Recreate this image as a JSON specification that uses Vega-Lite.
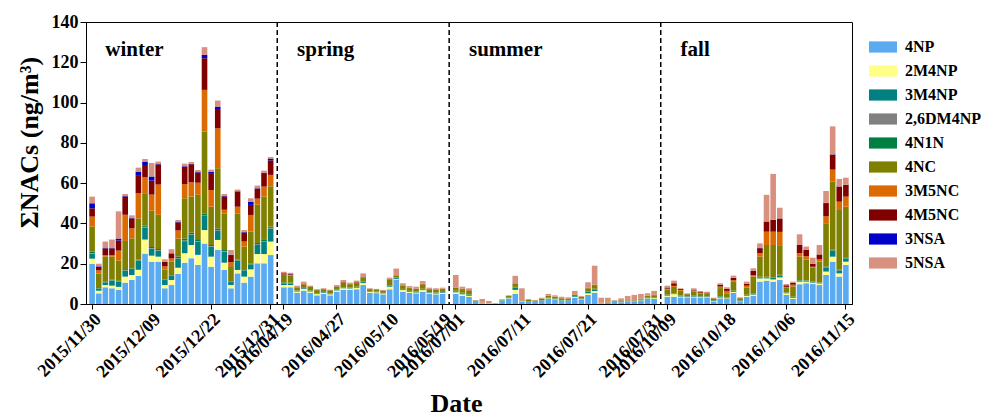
{
  "$schema": "https://vega.github.io/schema/vega-lite/v6.json",
  "autosize": "none",
  "width": 766,
  "height": 282,
  "padding": {"left": 86, "top": 22, "right": 140, "bottom": 114},
  "config": {
    "font": "Liberation Serif",
    "view": {"stroke": "#000000", "strokeWidth": 1},
    "axis": {"labelFontWeight": "bold", "labelColor": "#000000", "titleColor": "#000000", "domainColor": "#000000", "tickColor": "#000000", "grid": false, "titleFontWeight": "bold"}
  },
  "datasets": {
    "nacs": [
      {"d":"2015/11/30","4NP":20,"2M4NP":2.5,"3M4NP":2.5,"2,6DM4NP":0.3,"4N1N":0.7,"4NC":12.4,"3M5NC":5,"4M5NC":4.1,"3NSA":2.5,"5NSA":3.3},
      {"d":"2015/12/01","4NP":5.3,"2M4NP":1.3,"3M4NP":1,"2,6DM4NP":0.1,"4N1N":0.2,"4NC":7.2,"3M5NC":1.6,"4M5NC":1.7,"3NSA":0.3,"5NSA":1.3},
      {"d":"2015/12/02","4NP":8.3,"2M4NP":1.1,"3M4NP":1.3,"2,6DM4NP":0.1,"4N1N":0.2,"4NC":12.5,"3M5NC":0.8,"4M5NC":3.3,"3NSA":0.2,"5NSA":3.2},
      {"d":"2015/12/03","4NP":7.8,"2M4NP":1.3,"3M4NP":2.5,"2,6DM4NP":0.2,"4N1N":0.3,"4NC":11.4,"3M5NC":0.8,"4M5NC":3.3,"3NSA":0.2,"5NSA":4.2},
      {"d":"2015/12/04","4NP":7,"2M4NP":1.5,"3M4NP":2.5,"2,6DM4NP":0.2,"4N1N":0.3,"4NC":10,"3M5NC":5,"4M5NC":5,"3NSA":1,"5NSA":13.5},
      {"d":"2015/12/05","4NP":10.6,"2M4NP":3,"3M4NP":3,"2,6DM4NP":0.2,"4N1N":0.5,"4NC":14,"3M5NC":13,"4M5NC":9,"3NSA":0.3,"5NSA":1},
      {"d":"2015/12/06","4NP":12,"2M4NP":2.4,"3M4NP":3,"2,6DM4NP":0.1,"4N1N":0.2,"4NC":14.9,"3M5NC":5,"4M5NC":4.9,"3NSA":0.3,"5NSA":1.2},
      {"d":"2015/12/07","4NP":14,"2M4NP":3,"3M4NP":4.5,"2,6DM4NP":0.2,"4N1N":0.3,"4NC":20.5,"3M5NC":12.5,"4M5NC":9,"3NSA":1.7,"5NSA":2},
      {"d":"2015/12/08","4NP":25,"2M4NP":7,"3M4NP":6,"2,6DM4NP":0.3,"4N1N":0.7,"4NC":16,"3M5NC":8,"4M5NC":6,"3NSA":1.5,"5NSA":1.5},
      {"d":"2015/12/09","4NP":21,"2M4NP":3,"3M4NP":3.5,"2,6DM4NP":0.3,"4N1N":0.5,"4NC":18,"3M5NC":8,"4M5NC":7,"3NSA":2,"5NSA":6.7},
      {"d":"2015/12/10","4NP":21,"2M4NP":2.5,"3M4NP":3,"2,6DM4NP":0.3,"4N1N":0.5,"4NC":17,"3M5NC":15,"4M5NC":10,"3NSA":0.4,"5NSA":1},
      {"d":"2015/12/11","4NP":7.8,"2M4NP":1.6,"3M4NP":2.5,"2,6DM4NP":0.1,"4N1N":0.2,"4NC":4.8,"3M5NC":1.7,"4M5NC":2.2,"3NSA":0.1,"5NSA":1.2},
      {"d":"2015/12/12","4NP":9.4,"2M4NP":2.5,"3M4NP":2.2,"2,6DM4NP":0.1,"4N1N":0.2,"4NC":6.6,"3M5NC":1.6,"4M5NC":2.5,"3NSA":0.1,"5NSA":2},
      {"d":"2015/12/15","4NP":15,"2M4NP":3,"3M4NP":4.5,"2,6DM4NP":0.2,"4N1N":0.8,"4NC":9,"3M5NC":4,"4M5NC":4,"3NSA":0.2,"5NSA":1},
      {"d":"2015/12/16","4NP":20.5,"2M4NP":4.7,"3M4NP":6,"2,6DM4NP":0.3,"4N1N":1,"4NC":20,"3M5NC":7,"4M5NC":8.6,"3NSA":0.3,"5NSA":1.3},
      {"d":"2015/12/17","4NP":22.7,"2M4NP":6.6,"3M4NP":5,"2,6DM4NP":0.3,"4N1N":0.8,"4NC":18,"3M5NC":7,"4M5NC":9,"3NSA":0.2,"5NSA":0.9},
      {"d":"2015/12/19","4NP":19.4,"2M4NP":5,"3M4NP":6.5,"2,6DM4NP":0.3,"4N1N":1,"4NC":22,"3M5NC":6,"4M5NC":5,"3NSA":0.3,"5NSA":1},
      {"d":"2015/12/20","4NP":30,"2M4NP":6.7,"3M4NP":7,"2,6DM4NP":0.5,"4N1N":0.8,"4NC":40.6,"3M5NC":20.7,"4M5NC":15.7,"3NSA":1.7,"5NSA":3.8},
      {"d":"2015/12/22","4NP":18.5,"2M4NP":5,"3M4NP":5,"2,6DM4NP":0.3,"4N1N":0.5,"4NC":19,"3M5NC":8.3,"4M5NC":8.4,"3NSA":0.7,"5NSA":1},
      {"d":"2015/12/23","4NP":26.8,"2M4NP":5,"3M4NP":4.5,"2,6DM4NP":0.4,"4N1N":0.7,"4NC":30,"3M5NC":19.8,"4M5NC":9.6,"3NSA":1.2,"5NSA":3},
      {"d":"2015/12/24","4NP":16.9,"2M4NP":3.6,"3M4NP":5.5,"2,6DM4NP":0.3,"4N1N":0.5,"4NC":18,"3M5NC":2,"4M5NC":6.5,"3NSA":0.3,"5NSA":1},
      {"d":"2015/12/25","4NP":7.8,"2M4NP":1.6,"3M4NP":1.5,"2,6DM4NP":0.1,"4N1N":0.3,"4NC":7.5,"3M5NC":2,"4M5NC":3.5,"3NSA":0.2,"5NSA":2.3},
      {"d":"2015/12/26","4NP":15.2,"2M4NP":1.7,"3M4NP":4.5,"2,6DM4NP":0.2,"4N1N":0.4,"4NC":23,"3M5NC":3.3,"4M5NC":7.5,"3NSA":0.2,"5NSA":0.8},
      {"d":"2015/12/27","4NP":10.6,"2M4NP":3,"3M4NP":3,"2,6DM4NP":0.1,"4N1N":0.2,"4NC":11.6,"3M5NC":2.5,"4M5NC":4.4,"3NSA":0.3,"5NSA":1},
      {"d":"2015/12/28","4NP":13.6,"2M4NP":3.6,"3M4NP":2.5,"2,6DM4NP":0.1,"4N1N":0.2,"4NC":16,"3M5NC":8.2,"4M5NC":5,"3NSA":1.6,"5NSA":1.7},
      {"d":"2015/12/29","4NP":20.2,"2M4NP":4.6,"3M4NP":4.5,"2,6DM4NP":0.3,"4N1N":0.7,"4NC":19,"3M5NC":3,"4M5NC":5,"3NSA":0.2,"5NSA":1.3},
      {"d":"2015/12/30","4NP":20.2,"2M4NP":4.6,"3M4NP":6,"2,6DM4NP":0.3,"4N1N":0.7,"4NC":21.5,"3M5NC":5,"4M5NC":6.7,"3NSA":0.2,"5NSA":1},
      {"d":"2015/12/31","4NP":24.3,"2M4NP":6.7,"3M4NP":6.5,"2,6DM4NP":0.3,"4N1N":0.6,"4NC":20,"3M5NC":5.7,"4M5NC":7.2,"3NSA":0.9,"5NSA":0.8},
      {"d":"2016/04/19","4NP":8.3,"2M4NP":1.1,"3M4NP":0.9,"2,6DM4NP":0.1,"4N1N":0.3,"4NC":3.7,"3M5NC":0.3,"4M5NC":0.5,"3NSA":0.1,"5NSA":0.7},
      {"d":"2016/04/20","4NP":8.3,"2M4NP":1.1,"3M4NP":0.8,"2,6DM4NP":0.1,"4N1N":0.3,"4NC":3.6,"3M5NC":0.3,"4M5NC":0.3,"3NSA":0.1,"5NSA":0.6},
      {"d":"2016/04/21","4NP":5.6,"2M4NP":0.6,"3M4NP":0.3,"2,6DM4NP":0.1,"4N1N":0.1,"4NC":1.5,"3M5NC":0.2,"4M5NC":0.2,"3NSA":0,"5NSA":0.5},
      {"d":"2016/04/22","4NP":6.6,"2M4NP":0.8,"3M4NP":0.4,"2,6DM4NP":0.1,"4N1N":0.1,"4NC":1.5,"3M5NC":0.3,"4M5NC":0.3,"3NSA":0,"5NSA":1},
      {"d":"2016/04/23","4NP":5.6,"2M4NP":0.6,"3M4NP":0.4,"2,6DM4NP":0.1,"4N1N":0.1,"4NC":1.8,"3M5NC":0.1,"4M5NC":0.1,"3NSA":0,"5NSA":0.3},
      {"d":"2016/04/24","4NP":4.3,"2M4NP":0.6,"3M4NP":0.3,"2,6DM4NP":0.1,"4N1N":0.1,"4NC":1.5,"3M5NC":0.1,"4M5NC":0.1,"3NSA":0,"5NSA":0.2},
      {"d":"2016/04/25","4NP":5,"2M4NP":0.5,"3M4NP":0.3,"2,6DM4NP":0.1,"4N1N":0.1,"4NC":1.3,"3M5NC":0.1,"4M5NC":0.1,"3NSA":0,"5NSA":0.3},
      {"d":"2016/04/26","4NP":4.3,"2M4NP":0.5,"3M4NP":0.3,"2,6DM4NP":0.1,"4N1N":0.1,"4NC":1.4,"3M5NC":0.1,"4M5NC":0.1,"3NSA":0,"5NSA":0.2},
      {"d":"2016/04/27","4NP":6.1,"2M4NP":0.6,"3M4NP":0.3,"2,6DM4NP":0.1,"4N1N":0.1,"4NC":1.4,"3M5NC":0.1,"4M5NC":0.1,"3NSA":0,"5NSA":0.6},
      {"d":"2016/04/28","4NP":7,"2M4NP":0.8,"3M4NP":0.4,"2,6DM4NP":0.1,"4N1N":0.1,"4NC":2.1,"3M5NC":0.2,"4M5NC":0.2,"3NSA":0,"5NSA":1},
      {"d":"2016/04/29","4NP":7,"2M4NP":0.7,"3M4NP":0.3,"2,6DM4NP":0.1,"4N1N":0.1,"4NC":1.6,"3M5NC":0.1,"4M5NC":0.1,"3NSA":0,"5NSA":0.6},
      {"d":"2016/05/01","4NP":7.3,"2M4NP":0.7,"3M4NP":0.3,"2,6DM4NP":0.1,"4N1N":0.2,"4NC":1.9,"3M5NC":0.2,"4M5NC":0.2,"3NSA":0,"5NSA":0.7},
      {"d":"2016/05/03","4NP":9.4,"2M4NP":1,"3M4NP":0.5,"2,6DM4NP":0.1,"4N1N":0.2,"4NC":1.8,"3M5NC":0.3,"4M5NC":0.3,"3NSA":0,"5NSA":1.6},
      {"d":"2016/05/05","4NP":5.6,"2M4NP":0.4,"3M4NP":0.2,"2,6DM4NP":0.05,"4N1N":0.1,"4NC":1,"3M5NC":0.1,"4M5NC":0.1,"3NSA":0,"5NSA":0.25},
      {"d":"2016/05/07","4NP":5.4,"2M4NP":0.4,"3M4NP":0.2,"2,6DM4NP":0.05,"4N1N":0.1,"4NC":1,"3M5NC":0.1,"4M5NC":0.1,"3NSA":0,"5NSA":0.15},
      {"d":"2016/05/09","4NP":4.8,"2M4NP":0.4,"3M4NP":0.2,"2,6DM4NP":0.05,"4N1N":0.1,"4NC":1,"3M5NC":0.1,"4M5NC":0.1,"3NSA":0,"5NSA":0.25},
      {"d":"2016/05/10","4NP":7.3,"2M4NP":1.3,"3M4NP":0.5,"2,6DM4NP":0.1,"4N1N":0.2,"4NC":2.7,"3M5NC":0.2,"4M5NC":0.2,"3NSA":0,"5NSA":0.6},
      {"d":"2016/05/11","4NP":12.2,"2M4NP":0.3,"3M4NP":0.5,"2,6DM4NP":0.1,"4N1N":0.2,"4NC":0.8,"3M5NC":0.1,"4M5NC":0.1,"3NSA":0,"5NSA":3.3},
      {"d":"2016/05/12","4NP":6.1,"2M4NP":0.8,"3M4NP":0.4,"2,6DM4NP":0.1,"4N1N":0.1,"4NC":1.6,"3M5NC":0.1,"4M5NC":0.1,"3NSA":0,"5NSA":1},
      {"d":"2016/05/13","4NP":5.5,"2M4NP":0.5,"3M4NP":0.3,"2,6DM4NP":0.1,"4N1N":0.1,"4NC":1.4,"3M5NC":0.1,"4M5NC":0.1,"3NSA":0,"5NSA":0.8},
      {"d":"2016/05/14","4NP":5.3,"2M4NP":0.4,"3M4NP":0.3,"2,6DM4NP":0.1,"4N1N":0.1,"4NC":1.3,"3M5NC":0.1,"4M5NC":0.1,"3NSA":0,"5NSA":0.9},
      {"d":"2016/05/15","4NP":6.1,"2M4NP":0.8,"3M4NP":0.4,"2,6DM4NP":0.1,"4N1N":0.2,"4NC":2,"3M5NC":0.2,"4M5NC":0.2,"3NSA":0,"5NSA":1.4},
      {"d":"2016/05/16","4NP":5,"2M4NP":0.4,"3M4NP":0.3,"2,6DM4NP":0.1,"4N1N":0.1,"4NC":1.4,"3M5NC":0.1,"4M5NC":0.1,"3NSA":0,"5NSA":0.6},
      {"d":"2016/05/17","4NP":4.8,"2M4NP":0.4,"3M4NP":0.3,"2,6DM4NP":0.1,"4N1N":0.1,"4NC":1.4,"3M5NC":0.1,"4M5NC":0.1,"3NSA":0,"5NSA":0.5},
      {"d":"2016/05/19","4NP":5,"2M4NP":0.5,"3M4NP":0.3,"2,6DM4NP":0.1,"4N1N":0.1,"4NC":1.4,"3M5NC":0.1,"4M5NC":0.1,"3NSA":0,"5NSA":0.5},
      {"d":"2016/07/01","4NP":5,"2M4NP":0.8,"3M4NP":0.5,"2,6DM4NP":0.1,"4N1N":0.2,"4NC":1.4,"3M5NC":0.1,"4M5NC":0.1,"3NSA":0,"5NSA":6.2},
      {"d":"2016/07/02","4NP":4,"2M4NP":0.8,"3M4NP":0.5,"2,6DM4NP":0.1,"4N1N":0.2,"4NC":1.8,"3M5NC":0.1,"4M5NC":0.1,"3NSA":0,"5NSA":1},
      {"d":"2016/07/03","4NP":3.5,"2M4NP":0.6,"3M4NP":0.5,"2,6DM4NP":0.1,"4N1N":0.2,"4NC":1.8,"3M5NC":0.1,"4M5NC":0.1,"3NSA":0,"5NSA":0.9},
      {"d":"2016/07/04","4NP":1.5,"2M4NP":0.1,"3M4NP":0.1,"2,6DM4NP":0,"4N1N":0,"4NC":0.2,"3M5NC":0,"4M5NC":0,"3NSA":0,"5NSA":0.1},
      {"d":"2016/07/05","4NP":0.3,"2M4NP":0.1,"3M4NP":0.1,"2,6DM4NP":0,"4N1N":0,"4NC":0.2,"3M5NC":0,"4M5NC":0,"3NSA":0,"5NSA":1.8},
      {"d":"2016/07/06","4NP":0.2,"2M4NP":0.1,"3M4NP":0,"2,6DM4NP":0,"4N1N":0,"4NC":0.1,"3M5NC":0,"4M5NC":0,"3NSA":0,"5NSA":1.1},
      {"d":"2016/07/07","4NP":0.1,"2M4NP":0,"3M4NP":0,"2,6DM4NP":0,"4N1N":0,"4NC":0.1,"3M5NC":0,"4M5NC":0,"3NSA":0,"5NSA":0.3},
      {"d":"2016/07/08","4NP":1.5,"2M4NP":0.2,"3M4NP":0.2,"2,6DM4NP":0,"4N1N":0,"4NC":0.3,"3M5NC":0,"4M5NC":0,"3NSA":0,"5NSA":0.1},
      {"d":"2016/07/09","4NP":2.8,"2M4NP":0.3,"3M4NP":0.3,"2,6DM4NP":0,"4N1N":0.1,"4NC":0.6,"3M5NC":0,"4M5NC":0,"3NSA":0,"5NSA":0.2},
      {"d":"2016/07/10","4NP":5,"2M4NP":2,"3M4NP":1.2,"2,6DM4NP":0.1,"4N1N":0.2,"4NC":1.5,"3M5NC":0.2,"4M5NC":0.1,"3NSA":0,"5NSA":3.7},
      {"d":"2016/07/11","4NP":1.2,"2M4NP":0.2,"3M4NP":0.1,"2,6DM4NP":0,"4N1N":0,"4NC":0.3,"3M5NC":0,"4M5NC":0,"3NSA":0,"5NSA":6},
      {"d":"2016/07/12","4NP":1,"2M4NP":0.1,"3M4NP":0.2,"2,6DM4NP":0,"4N1N":0.1,"4NC":0.7,"3M5NC":0,"4M5NC":0,"3NSA":0,"5NSA":0.4},
      {"d":"2016/07/13","4NP":1,"2M4NP":0.1,"3M4NP":0.2,"2,6DM4NP":0,"4N1N":0.1,"4NC":0.4,"3M5NC":0,"4M5NC":0,"3NSA":0,"5NSA":0.2},
      {"d":"2016/07/14","4NP":1.5,"2M4NP":0.1,"3M4NP":0.2,"2,6DM4NP":0,"4N1N":0.1,"4NC":0.8,"3M5NC":0,"4M5NC":0,"3NSA":0,"5NSA":0.4},
      {"d":"2016/07/15","4NP":2.5,"2M4NP":0.3,"3M4NP":0.3,"2,6DM4NP":0,"4N1N":0.1,"4NC":0.8,"3M5NC":0.1,"4M5NC":0,"3NSA":0,"5NSA":0.9},
      {"d":"2016/07/16","4NP":2,"2M4NP":0.3,"3M4NP":0.3,"2,6DM4NP":0,"4N1N":0.1,"4NC":0.8,"3M5NC":0.1,"4M5NC":0,"3NSA":0,"5NSA":0.7},
      {"d":"2016/07/17","4NP":1.5,"2M4NP":0.2,"3M4NP":0.2,"2,6DM4NP":0,"4N1N":0.1,"4NC":0.8,"3M5NC":0.1,"4M5NC":0,"3NSA":0,"5NSA":0.7},
      {"d":"2016/07/18","4NP":1.5,"2M4NP":0.2,"3M4NP":0.2,"2,6DM4NP":0,"4N1N":0.1,"4NC":0.5,"3M5NC":0,"4M5NC":0,"3NSA":0,"5NSA":0.8},
      {"d":"2016/07/19","4NP":3,"2M4NP":0.5,"3M4NP":0.3,"2,6DM4NP":0,"4N1N":0.1,"4NC":0.8,"3M5NC":0.1,"4M5NC":0,"3NSA":0,"5NSA":1.7},
      {"d":"2016/07/20","4NP":2,"2M4NP":0.3,"3M4NP":0.3,"2,6DM4NP":0,"4N1N":0.1,"4NC":0.8,"3M5NC":0.1,"4M5NC":0,"3NSA":0,"5NSA":0.4},
      {"d":"2016/07/21","4NP":4.5,"2M4NP":0.8,"3M4NP":0.8,"2,6DM4NP":0.1,"4N1N":0.2,"4NC":1.4,"3M5NC":0.1,"4M5NC":0.1,"3NSA":0,"5NSA":2.8},
      {"d":"2016/07/22","4NP":5.6,"2M4NP":0.8,"3M4NP":0.8,"2,6DM4NP":0.1,"4N1N":0.3,"4NC":1.8,"3M5NC":0.1,"4M5NC":0.1,"3NSA":0,"5NSA":9.4},
      {"d":"2016/07/23","4NP":0.3,"2M4NP":0.1,"3M4NP":0.1,"2,6DM4NP":0,"4N1N":0,"4NC":0.1,"3M5NC":0,"4M5NC":0,"3NSA":0,"5NSA":2.5},
      {"d":"2016/07/24","4NP":0.5,"2M4NP":0.1,"3M4NP":0.1,"2,6DM4NP":0,"4N1N":0,"4NC":0.2,"3M5NC":0,"4M5NC":0,"3NSA":0,"5NSA":2.2},
      {"d":"2016/07/25","4NP":1.5,"2M4NP":0.1,"3M4NP":0.1,"2,6DM4NP":0,"4N1N":0,"4NC":0.1,"3M5NC":0,"4M5NC":0,"3NSA":0,"5NSA":0.2},
      {"d":"2016/07/26","4NP":0.8,"2M4NP":0.1,"3M4NP":0.1,"2,6DM4NP":0,"4N1N":0,"4NC":0.4,"3M5NC":0,"4M5NC":0,"3NSA":0,"5NSA":1.4},
      {"d":"2016/07/27","4NP":1,"2M4NP":0.2,"3M4NP":0.2,"2,6DM4NP":0,"4N1N":0,"4NC":0.4,"3M5NC":0,"4M5NC":0,"3NSA":0,"5NSA":2.2},
      {"d":"2016/07/28","4NP":1,"2M4NP":0.2,"3M4NP":0.2,"2,6DM4NP":0,"4N1N":0,"4NC":0.4,"3M5NC":0,"4M5NC":0,"3NSA":0,"5NSA":2.7},
      {"d":"2016/07/29","4NP":1.5,"2M4NP":0.3,"3M4NP":0.3,"2,6DM4NP":0,"4N1N":0.1,"4NC":0.5,"3M5NC":0,"4M5NC":0,"3NSA":0,"5NSA":2.3},
      {"d":"2016/07/30","4NP":2.5,"2M4NP":0.3,"3M4NP":0.3,"2,6DM4NP":0,"4N1N":0.1,"4NC":0.8,"3M5NC":0.1,"4M5NC":0,"3NSA":0,"5NSA":1.2},
      {"d":"2016/07/31","4NP":2.5,"2M4NP":0.4,"3M4NP":0.3,"2,6DM4NP":0,"4N1N":0.1,"4NC":1,"3M5NC":0.1,"4M5NC":0.1,"3NSA":0,"5NSA":2},
      {"d":"2016/10/09","4NP":3.6,"2M4NP":0.5,"3M4NP":0.3,"2,6DM4NP":0.1,"4N1N":0.1,"4NC":2.5,"3M5NC":0.5,"4M5NC":0.6,"3NSA":0,"5NSA":0.9},
      {"d":"2016/10/10","4NP":3.6,"2M4NP":1.3,"3M4NP":0.3,"2,6DM4NP":0.1,"4N1N":0.1,"4NC":3.1,"3M5NC":0.5,"4M5NC":1.3,"3NSA":0,"5NSA":1.3},
      {"d":"2016/10/11","4NP":3.3,"2M4NP":0.4,"3M4NP":0.3,"2,6DM4NP":0.1,"4N1N":0.1,"4NC":2.4,"3M5NC":0.4,"4M5NC":0.5,"3NSA":0,"5NSA":0.3},
      {"d":"2016/10/12","4NP":3.3,"2M4NP":0.2,"3M4NP":0.2,"2,6DM4NP":0,"4N1N":0.1,"4NC":1,"3M5NC":0.1,"4M5NC":0.1,"3NSA":0,"5NSA":0.3},
      {"d":"2016/10/13","4NP":3.3,"2M4NP":0.3,"3M4NP":0.3,"2,6DM4NP":0.1,"4N1N":0.1,"4NC":2,"3M5NC":0.3,"4M5NC":0.4,"3NSA":0,"5NSA":1},
      {"d":"2016/10/14","4NP":3.3,"2M4NP":0.2,"3M4NP":0.2,"2,6DM4NP":0,"4N1N":0.1,"4NC":1.5,"3M5NC":0.3,"4M5NC":0.4,"3NSA":0,"5NSA":0.5},
      {"d":"2016/10/15","4NP":3.3,"2M4NP":0.2,"3M4NP":0.2,"2,6DM4NP":0,"4N1N":0.1,"4NC":1.3,"3M5NC":0.2,"4M5NC":0.4,"3NSA":0,"5NSA":0.4},
      {"d":"2016/10/16","4NP":1.2,"2M4NP":0.2,"3M4NP":0.3,"2,6DM4NP":0,"4N1N":0.2,"4NC":0.8,"3M5NC":0.1,"4M5NC":0.1,"3NSA":0,"5NSA":0.2},
      {"d":"2016/10/17","4NP":2.8,"2M4NP":0.4,"3M4NP":0.4,"2,6DM4NP":0.1,"4N1N":0.2,"4NC":4,"3M5NC":0.8,"4M5NC":0.9,"3NSA":0,"5NSA":0.7},
      {"d":"2016/10/18","4NP":2.5,"2M4NP":0.3,"3M4NP":0.3,"2,6DM4NP":0.1,"4N1N":0.1,"4NC":2,"3M5NC":1.2,"4M5NC":1,"3NSA":0,"5NSA":0.8},
      {"d":"2016/10/20","4NP":5.6,"2M4NP":0.4,"3M4NP":0.4,"2,6DM4NP":0.1,"4N1N":0.2,"4NC":4.3,"3M5NC":0.8,"4M5NC":1.2,"3NSA":0,"5NSA":1.1},
      {"d":"2016/10/22","4NP":1.1,"2M4NP":0.2,"3M4NP":0.3,"2,6DM4NP":0,"4N1N":0.2,"4NC":1,"3M5NC":0.1,"4M5NC":0.1,"3NSA":0,"5NSA":0.3},
      {"d":"2016/10/24","4NP":3.6,"2M4NP":0.4,"3M4NP":0.3,"2,6DM4NP":0.1,"4N1N":0.2,"4NC":3.6,"3M5NC":0.9,"4M5NC":1,"3NSA":0,"5NSA":1},
      {"d":"2016/10/26","4NP":4.1,"2M4NP":0.5,"3M4NP":0.3,"2,6DM4NP":0.1,"4N1N":0.2,"4NC":8.4,"3M5NC":0.8,"4M5NC":2,"3NSA":0,"5NSA":1.3},
      {"d":"2016/10/28","4NP":11.1,"2M4NP":1.6,"3M4NP":0.6,"2,6DM4NP":0.1,"4N1N":0.2,"4NC":9.9,"3M5NC":1.7,"4M5NC":2.5,"3NSA":0.1,"5NSA":2.3},
      {"d":"2016/10/30","4NP":11.6,"2M4NP":1.1,"3M4NP":0.5,"2,6DM4NP":0.1,"4N1N":0.2,"4NC":15.8,"3M5NC":6.6,"4M5NC":5,"3NSA":0.1,"5NSA":13.2},
      {"d":"2016/11/01","4NP":11.1,"2M4NP":1.1,"3M4NP":0.7,"2,6DM4NP":0.1,"4N1N":0.2,"4NC":16.1,"3M5NC":6.6,"4M5NC":5.8,"3NSA":0.1,"5NSA":22.8},
      {"d":"2016/11/03","4NP":11.9,"2M4NP":1.3,"3M4NP":1,"2,6DM4NP":0.1,"4N1N":0.2,"4NC":14.7,"3M5NC":6.6,"4M5NC":6.6,"3NSA":0.1,"5NSA":5.3},
      {"d":"2016/11/06","4NP":4.5,"2M4NP":0.8,"3M4NP":0.3,"2,6DM4NP":0.1,"4N1N":0.1,"4NC":2.2,"3M5NC":0.5,"4M5NC":0.8,"3NSA":0,"5NSA":0.6},
      {"d":"2016/11/07","4NP":2.5,"2M4NP":0.5,"3M4NP":0.4,"2,6DM4NP":0.1,"4N1N":0.2,"4NC":5,"3M5NC":0.9,"4M5NC":0.9,"3NSA":0,"5NSA":0.6},
      {"d":"2016/11/08","4NP":9.8,"2M4NP":1.3,"3M4NP":0.5,"2,6DM4NP":0.1,"4N1N":0.2,"4NC":11.6,"3M5NC":1.7,"4M5NC":4.1,"3NSA":0,"5NSA":5.3},
      {"d":"2016/11/09","4NP":10.3,"2M4NP":0.8,"3M4NP":0.5,"2,6DM4NP":0.1,"4N1N":0.1,"4NC":10.2,"3M5NC":1.7,"4M5NC":3.3,"3NSA":0,"5NSA":1.5},
      {"d":"2016/11/10","4NP":9.9,"2M4NP":0.7,"3M4NP":0.3,"2,6DM4NP":0.1,"4N1N":0.1,"4NC":6.9,"3M5NC":0.5,"4M5NC":1.5,"3NSA":0,"5NSA":3},
      {"d":"2016/11/11","4NP":9.4,"2M4NP":0.8,"3M4NP":0.3,"2,6DM4NP":0.1,"4N1N":0.1,"4NC":10.4,"3M5NC":1,"4M5NC":2.5,"3NSA":0,"5NSA":4.7},
      {"d":"2016/11/12","4NP":14.4,"2M4NP":1.7,"3M4NP":2,"2,6DM4NP":0.1,"4N1N":0.4,"4NC":21.5,"3M5NC":3.4,"4M5NC":6.6,"3NSA":0.1,"5NSA":5.9},
      {"d":"2016/11/13","4NP":21,"2M4NP":2.5,"3M4NP":3,"2,6DM4NP":0.1,"4N1N":0.3,"4NC":34,"3M5NC":5.8,"4M5NC":7.4,"3NSA":0.2,"5NSA":13.9},
      {"d":"2016/11/14","4NP":13.6,"2M4NP":1.6,"3M4NP":1.5,"2,6DM4NP":0.1,"4N1N":0.3,"4NC":29.6,"3M5NC":4.1,"4M5NC":7.5,"3NSA":0.1,"5NSA":3.7},
      {"d":"2016/11/15","4NP":19.4,"2M4NP":1.6,"3M4NP":1.5,"2,6DM4NP":0.1,"4N1N":0.3,"4NC":25.4,"3M5NC":5,"4M5NC":5.8,"3NSA":0.1,"5NSA":3.5}
    ],
    "stackOrder": [
      {"comp": "4NP", "rank": 0},
      {"comp": "2M4NP", "rank": 1},
      {"comp": "3M4NP", "rank": 2},
      {"comp": "2,6DM4NP", "rank": 3},
      {"comp": "4N1N", "rank": 4},
      {"comp": "4NC", "rank": 5},
      {"comp": "3M5NC", "rank": 6},
      {"comp": "4M5NC", "rank": 7},
      {"comp": "3NSA", "rank": 8},
      {"comp": "5NSA", "rank": 9}
    ],
    "breaks": [{"d": "g1"}, {"d": "g2"}, {"d": "g3"}],
    "seasons": [
      {"season": "winter", "d": "2015/12/02", "val": 126},
      {"season": "spring", "d": "2016/04/21", "val": 126},
      {"season": "summer", "d": "2016/07/03", "val": 126},
      {"season": "fall", "d": "2016/10/11", "val": 126}
    ]
  },
  "encoding": {
    "x": {
      "field": "d",
      "type": "ordinal",
      "scale": {
        "paddingInner": 0.15,
        "paddingOuter": 0.5,
        "domain": ["2015/11/30","2015/12/01","2015/12/02","2015/12/03","2015/12/04","2015/12/05","2015/12/06","2015/12/07","2015/12/08","2015/12/09","2015/12/10","2015/12/11","2015/12/12","2015/12/15","2015/12/16","2015/12/17","2015/12/19","2015/12/20","2015/12/22","2015/12/23","2015/12/24","2015/12/25","2015/12/26","2015/12/27","2015/12/28","2015/12/29","2015/12/30","2015/12/31","g1","2016/04/19","2016/04/20","2016/04/21","2016/04/22","2016/04/23","2016/04/24","2016/04/25","2016/04/26","2016/04/27","2016/04/28","2016/04/29","2016/05/01","2016/05/03","2016/05/05","2016/05/07","2016/05/09","2016/05/10","2016/05/11","2016/05/12","2016/05/13","2016/05/14","2016/05/15","2016/05/16","2016/05/17","2016/05/19","g2","2016/07/01","2016/07/02","2016/07/03","2016/07/04","2016/07/05","2016/07/06","2016/07/07","2016/07/08","2016/07/09","2016/07/10","2016/07/11","2016/07/12","2016/07/13","2016/07/14","2016/07/15","2016/07/16","2016/07/17","2016/07/18","2016/07/19","2016/07/20","2016/07/21","2016/07/22","2016/07/23","2016/07/24","2016/07/25","2016/07/26","2016/07/27","2016/07/28","2016/07/29","2016/07/30","2016/07/31","g3","2016/10/09","2016/10/10","2016/10/11","2016/10/12","2016/10/13","2016/10/14","2016/10/15","2016/10/16","2016/10/17","2016/10/18","2016/10/20","2016/10/22","2016/10/24","2016/10/26","2016/10/28","2016/10/30","2016/11/01","2016/11/03","2016/11/06","2016/11/07","2016/11/08","2016/11/09","2016/11/10","2016/11/11","2016/11/12","2016/11/13","2016/11/14","2016/11/15"]
      },
      "axis": {
        "title": "Date",
        "titleFontSize": 26,
        "titleX": 370,
        "titleY": 107,
        "titleBaseline": "alphabetic",
        "values": ["2015/11/30","2015/12/09","2015/12/22","2015/12/31","2016/04/19","2016/04/27","2016/05/10","2016/05/19","2016/07/01","2016/07/11","2016/07/21","2016/07/31","2016/10/09","2016/10/18","2016/11/06","2016/11/15"],
        "labelAngle": -45,
        "labelAlign": "right",
        "labelBaseline": "top",
        "labelFontSize": 18,
        "labelPadding": 1,
        "tickSize": 5,
        "labelOverlap": false,
        "labelBound": false
      }
    }
  },
  "layer": [
    {
      "data": {"name": "nacs"},
      "transform": [
        {"fold": ["4NP","2M4NP","3M4NP","2,6DM4NP","4N1N","4NC","3M5NC","4M5NC","3NSA","5NSA"], "as": ["comp", "val"]},
        {"lookup": "comp", "from": {"data": {"name": "stackOrder"}, "key": "comp", "fields": ["rank"]}}
      ],
      "mark": {"type": "bar"},
      "encoding": {
        "y": {
          "field": "val",
          "type": "quantitative",
          "stack": "zero",
          "title": "ΣNACs (ng/m³)",
          "scale": {"domain": [0, 140], "nice": false},
          "axis": {
            "title": "ΣNACs (ng/m³)",
            "titleFontSize": 26,
            "titleX": -44,
            "titleY": 120,
            "values": [0,20,40,60,80,100,120,140],
            "labelFontSize": 18,
            "tickSize": 6,
            "labelPadding": 2
          }
        },
        "order": {"field": "rank", "type": "quantitative", "sort": "ascending"},
        "color": {
          "field": "comp",
          "type": "nominal",
          "scale": {
            "domain": ["4NP","2M4NP","3M4NP","2,6DM4NP","4N1N","4NC","3M5NC","4M5NC","3NSA","5NSA"],
            "range": ["#5aaaf2","#ffff85","#008080","#808080","#008040","#808000","#dc6a00","#800000","#0000c8","#d8907f"]
          },
          "legend": {
            "title": null,
            "orient": "none",
            "legendX": 789,
            "legendY": 17,
            "symbolType": "M-2,-0.8H2V0.8H-2Z",
            "symbolSize": 196,
            "symbolStrokeWidth": 0,
            "labelFontSize": 16,
            "labelFontWeight": "bold",
            "labelColor": "#000000",
            "labelOffset": 14,
            "rowPadding": 8
          }
        }
      }
    },
    {
      "data": {"name": "breaks"},
      "mark": {"type": "rule", "color": "#000000", "strokeDash": [5, 3], "strokeWidth": 1.5},
      "encoding": {}
    },
    {
      "data": {"name": "seasons"},
      "mark": {"type": "text", "align": "left", "baseline": "middle", "fontSize": 21, "fontWeight": "bold", "color": "#000000"},
      "encoding": {
        "y": {
          "field": "val",
          "type": "quantitative",
          "title": "ΣNACs (ng/m³)",
          "axis": {
            "title": "ΣNACs (ng/m³)",
            "titleFontSize": 26,
            "titleX": -44,
            "titleY": 120,
            "values": [0,20,40,60,80,100,120,140],
            "labelFontSize": 18,
            "tickSize": 6,
            "labelPadding": 2
          }
        },
        "text": {"field": "season"}
      }
    }
  ]
}
